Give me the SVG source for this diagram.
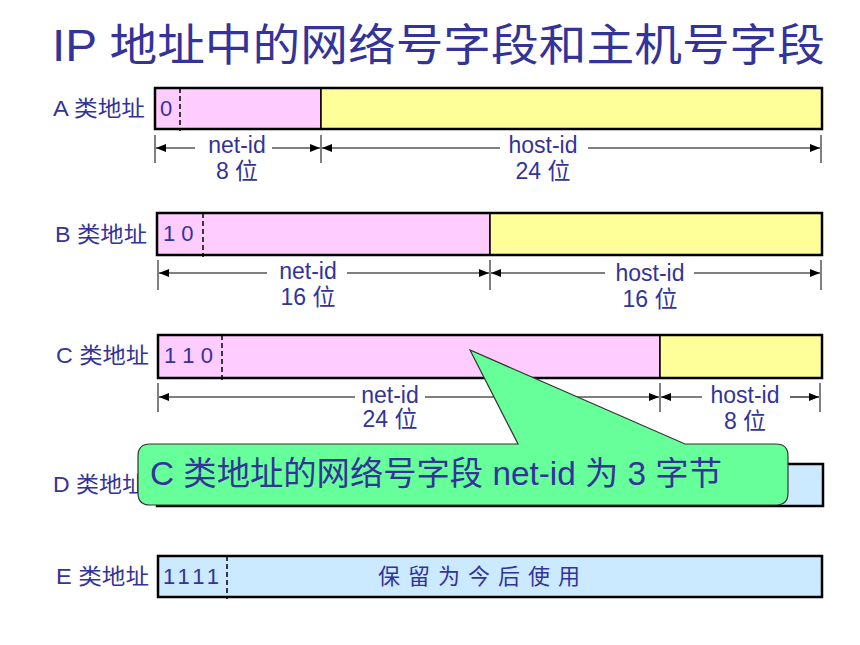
<svg xmlns="http://www.w3.org/2000/svg" width="860" height="645" viewBox="0 0 860 645">
<style>
text{font-family:"Liberation Sans","Noto Sans CJK SC",sans-serif;fill:#333399}
.title{font-size:44px}
.lbl{font-size:22px}
.dim{font-size:23px;text-anchor:middle}
.bits{font-size:22px}
.box{stroke:#000;stroke-width:2.5}
.net{fill:#ffccff;stroke:#000;stroke-width:1.5}
.host{fill:#ffff99;stroke:#000;stroke-width:1.5}
.dash{stroke:#000;stroke-width:1.5;stroke-dasharray:5 3}
.tick{stroke:#000;stroke-width:1}
.arr{stroke:#000;stroke-width:1.2;fill:none}
.ae{marker-end:url(#ah)}
</style>
<defs>
<marker id="ah" viewBox="0 0 10 8" refX="10" refY="4" markerWidth="10" markerHeight="8" markerUnits="userSpaceOnUse" orient="auto">
<path d="M0,0 L10,4 L0,8 Z" fill="#000"/>
</marker>
</defs>
<rect width="860" height="645" fill="#fff"/>
<text class="title" x="52" y="61" textLength="773" lengthAdjust="spacingAndGlyphs">IP 地址中的网络号字段和主机号字段</text>

<g id="classA">
<text class="lbl" x="53" y="116" textLength="92" lengthAdjust="spacingAndGlyphs">A 类地址</text>
<rect class="net" x="155" y="88" width="166" height="41"/>
<rect class="host" x="321" y="88" width="501" height="41"/>
<rect class="box" x="155" y="88" width="667" height="41" fill="none"/>
<line class="dash" x1="180" y1="88" x2="180" y2="131"/>
<text class="bits" x="160" y="116">0</text>
<text class="dim" x="237" y="153">net-id</text>
<text class="dim" x="237" y="179">8 位</text>
<text class="dim" x="543" y="153">host-id</text>
<text class="dim" x="543" y="179">24 位</text>
</g>

<g id="classB">
<text class="lbl" x="55" y="242" textLength="92" lengthAdjust="spacingAndGlyphs">B 类地址</text>
<rect class="net" x="157" y="213" width="333" height="42"/>
<rect class="host" x="490" y="213" width="332" height="42"/>
<rect class="box" x="157" y="213" width="665" height="42" fill="none"/>
<line class="dash" x1="203" y1="213" x2="203" y2="257"/>
<text class="bits" x="163" y="241">1 0</text>
<text class="dim" x="308" y="279">net-id</text>
<text class="dim" x="308" y="305">16 位</text>
<text class="dim" x="650" y="281">host-id</text>
<text class="dim" x="650" y="307">16 位</text>
</g>

<g id="classC">
<text class="lbl" x="56" y="363" textLength="93" lengthAdjust="spacingAndGlyphs">C 类地址</text>
<rect class="net" x="158" y="335" width="502" height="43"/>
<rect class="host" x="660" y="335" width="162" height="43"/>
<rect class="box" x="158" y="335" width="664" height="43" fill="none"/>
<line class="dash" x1="222" y1="335" x2="222" y2="380"/>
<text class="bits" x="164" y="363">1 1 0</text>
<text class="dim" x="390" y="403">net-id</text>
<text class="dim" x="390" y="427">24 位</text>
<text class="dim" x="745" y="403">host-id</text>
<text class="dim" x="745" y="429">8 位</text>
</g>

<g id="classD">
<text class="lbl" x="53" y="492" textLength="92" lengthAdjust="spacingAndGlyphs">D 类地址</text>
<rect class="box" x="157" y="464" width="666" height="42" fill="#cceaff"/>
</g>

<g id="classE">
<text class="lbl" x="56" y="584" textLength="93" lengthAdjust="spacingAndGlyphs">E 类地址</text>
<rect class="box" x="158" y="556" width="664" height="41" fill="#cceaff"/>
<line class="dash" x1="227" y1="556" x2="227" y2="599"/>
<text class="bits" x="163" y="584" letter-spacing="4">1111</text>
<text class="bits" x="378" y="584" textLength="202" lengthAdjust="spacing">保 留 为 今 后 使 用</text>
</g>

<g id="connectors">
<line class="tick" x1="155" y1="135" x2="155" y2="163"/>
<line class="tick" x1="321" y1="135" x2="321" y2="163"/>
<line class="tick" x1="821" y1="135" x2="821" y2="163"/>
<path class="arr ae" d="M195,148 H156"/>
<path class="arr ae" d="M272,148 H320"/>
<path class="arr ae" d="M500,148 H322"/>
<path class="arr ae" d="M588,148 H820"/>

<line class="tick" x1="158" y1="260" x2="158" y2="290"/>
<line class="tick" x1="490" y1="260" x2="490" y2="290"/>
<line class="tick" x1="821" y1="260" x2="821" y2="290"/>
<path class="arr ae" d="M267,273 H159"/>
<path class="arr ae" d="M347,273 H489"/>
<path class="arr ae" d="M605,273 H491"/>
<path class="arr ae" d="M694,273 H820"/>

<line class="tick" x1="158" y1="383" x2="158" y2="412"/>
<line class="tick" x1="660" y1="383" x2="660" y2="412"/>
<line class="tick" x1="820" y1="383" x2="820" y2="412"/>
<path class="arr ae" d="M355,397 H159"/>
<path class="arr ae" d="M425,397 H659"/>
<path class="arr ae" d="M702,397 H661"/>
<path class="arr ae" d="M790,397 H819"/>
</g>

<g id="callout">
<path d="M150,444 L518,444 L470,350 L685,444 L776,444 Q788,444 788,456 L788,493 Q788,505 776,505 L150,505 Q138,505 138,493 L138,456 Q138,444 150,444 Z" fill="#66ff99" stroke="#333" stroke-width="1.2"/>
<text x="150" y="485" font-size="33" textLength="572" lengthAdjust="spacingAndGlyphs">C 类地址的网络号字段 net-id 为 3 字节</text>
</g>
</svg>
